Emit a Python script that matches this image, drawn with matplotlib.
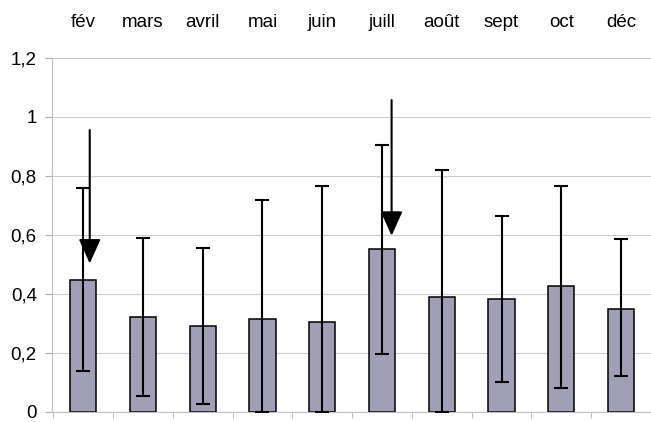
import numpy as np
import matplotlib.pyplot as plt

plt.rcParams['font.family'] = ['Liberation Sans', 'DejaVu Sans']

months = ['fév', 'mars', 'avril', 'mai', 'juin', 'juill', 'août', 'sept', 'oct', 'déc']
means = [0.447, 0.32, 0.29, 0.315, 0.305, 0.553, 0.39, 0.383, 0.425, 0.35]
err_low = [0.14, 0.055, 0.027, 0.0, 0.0, 0.195, 0.0, 0.10, 0.08, 0.12]
err_high = [0.76, 0.59, 0.557, 0.718, 0.765, 0.906, 0.82, 0.665, 0.765, 0.587]

# downward arrows: month index, start value, tip value
arrow_idx = [0, 5]
arrow_start = [0.955, 1.057]
arrow_tip = [0.503, 0.597]

x = np.arange(len(months))
means_a = np.array(means)
yerr = [means_a - np.array(err_low), np.array(err_high) - means_a]

fig = plt.figure(figsize=(6.51, 4.22), dpi=100)
ax = fig.add_axes([0.08, 0.024, 0.92, 0.839])

ax.bar(x, means, width=0.44, color='#a09fb6', edgecolor='black', linewidth=1.1, zorder=2)
ax.errorbar(x, means, yerr=yerr, fmt='none', ecolor='black', elinewidth=1.5,
            capsize=5.2, capthick=1.5, zorder=3)

arrow_dx = [0.11, 0.16]
for i, s, t, dx in zip(arrow_idx, arrow_start, arrow_tip, arrow_dx):
    ax.annotate('', xy=(i + dx, t), xytext=(i + dx, s),
                arrowprops=dict(arrowstyle='-|>,head_width=0.45,head_length=1.0',
                                mutation_scale=15, lw=1.5, color='black',
                                shrinkA=0, shrinkB=0), zorder=4)

ax.set_ylim(0, 1.2)
ax.set_xlim(-0.52, 9.3)
ax.set_yticks(np.arange(0, 1.21, 0.2))
ax.set_yticklabels(['0', '0,2', '0,4', '0,6', '0,8', '1', '1,2'], fontsize=13.5)
ax.yaxis.grid(True, color='#cccccc', linewidth=0.8, zorder=0)
ax.set_axisbelow(True)

ax.xaxis.tick_top()
ax.set_xticks(x)
ax.set_xticklabels(months, fontsize=13.5)
ax.tick_params(axis='x', which='major', length=0, pad=19)
ax.set_xticks(np.arange(-0.5, 9.6, 1), minor=True)
ax.tick_params(axis='x', which='minor', bottom=True, top=False, length=4,
               color='#b0b0b0', direction='out')
ax.tick_params(axis='y', length=5, color='#b0b0b0', pad=6)

for side in ['top', 'right']:
    ax.spines[side].set_visible(False)
for side in ['left', 'bottom']:
    ax.spines[side].set_color('#c0c0c0')

fig.savefig('out.png', dpi=100)
